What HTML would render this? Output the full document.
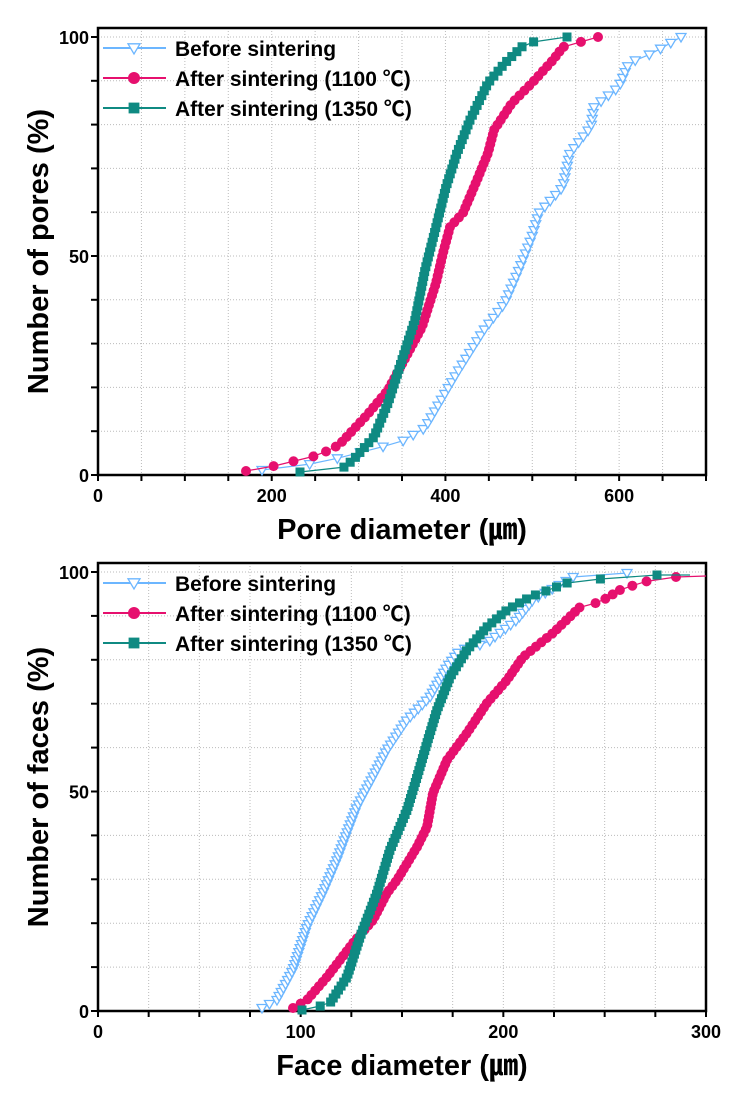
<!DOCTYPE html>
<html><head><meta charset="utf-8"><style>
html,body{margin:0;padding:0;background:#fff;}
svg{display:block;font-family:"Liberation Sans","Noto Sans CJK KR",sans-serif;}
</style></head><body>
<svg id="s" width="746" height="1096" xmlns="http://www.w3.org/2000/svg"></svg>
<script>
const s=document.getElementById('s');let h='';
function plot(L,R,T,Y100,Y0,xt,xmax,xgrid,ygrid,xlab,ylab){
  for(let v=xgrid;v<xmax;v+=xgrid){const x=L+(R-L)*v/xmax;h+=`<line x1="${x}" y1="${T}" x2="${x}" y2="${Y0}" stroke="#bbb" stroke-dasharray="1,2"/>`;}
  for(let v=ygrid;v<=100;v+=ygrid){const y=Y0-(Y0-Y100)*v/100;h+=`<line x1="${L}" y1="${y}" x2="${R}" y2="${y}" stroke="#bbb" stroke-dasharray="1,2"/>`;}
  h+=`<rect x="${L}" y="${T}" width="${R-L}" height="${Y0-T}" fill="none" stroke="#000" stroke-width="2.5"/>`;
  for(let v=0;v<=xmax;v+=xgrid){const x=L+(R-L)*v/xmax;h+=`<line x1="${x}" y1="${Y0}" x2="${x}" y2="${Y0+6}" stroke="#000" stroke-width="2"/>`;}
  xt.forEach(v=>{const x=L+(R-L)*v/xmax;h+=`<text x="${x}" y="${Y0+27}" font-size="18" font-weight="bold" text-anchor="middle">${v}</text>`;});
  for(let v=0;v<=100;v+=ygrid){const y=Y0-(Y0-Y100)*v/100;h+=`<line x1="${L-7}" y1="${y}" x2="${L}" y2="${y}" stroke="#000" stroke-width="2"/>`;}
  [0,50,100].forEach(v=>{const y=Y0-(Y0-Y100)*v/100;h+=`<text x="${L-9}" y="${y+7}" font-size="18" font-weight="bold" text-anchor="end">${v}</text>`;});
  h+=`<text x="${(L+R)/2}" y="${Y0+64}" font-size="29" font-weight="bold" text-anchor="middle">${xlab}</text>`;
  h+=`<text transform="translate(48,${(T+Y0)/2}) rotate(-90)" font-size="29" font-weight="bold" text-anchor="middle">${ylab}</text>`;
  const items=[['Before sintering','#6cb6ff','tri'],['After sintering (1100 ℃)','#e6106e','dot'],['After sintering (1350 ℃)','#0f8a82','sq']];
  items.forEach((it,i)=>{const y=T+20+i*30;h+=`<line x1="${L+5}" y1="${y}" x2="${L+68}" y2="${y}" stroke="${it[1]}" stroke-width="2"/>`+mk(L+36,y,it[1],it[2],1.2);
  h+=`<text x="${L+77}" y="${y+8}" font-size="21" font-weight="bold">${it[0]}</text>`;});
}
function mk(x,y,c,t,sc){sc=sc||1;
  if(t=='tri'){const r=5*sc;return `<polygon points="${x-r},${y-r*0.7} ${x+r},${y-r*0.7} ${x},${y+r}" fill="#fff" stroke="${c}" stroke-width="1.3"/>`;}
  if(t=='dot')return `<circle cx="${x}" cy="${y}" r="${5*sc}" fill="${c}"/>`;
  const r=4.5*sc;return `<rect x="${x-r}" y="${y-r}" width="${2*r}" height="${2*r}" fill="${c}"/>`;}
function series(pts,c,t,n){
  let out=[];const y0=pts[0][1],y1=pts[pts.length-1][1];
  for(let k=0;k<n;k++){const y=y0+(y1-y0)*k/(n-1);
    for(let i=0;i<pts.length-1;i++){const a=pts[i],b=pts[i+1];if((y<=a[1]&&y>=b[1])){const f=a[1]==b[1]?0:(a[1]-y)/(a[1]-b[1]);out.push([a[0]+(b[0]-a[0])*f,y]);break;}}}
  h+=`<polyline points="${out.map(p=>p.join(',')).join(' ')}" fill="none" stroke="${c}" stroke-width="1.2"/>`;
  out.forEach(p=>h+=mk(p[0],p[1],c,t,1));
}
plot(98,706,28,37,475,[0,200,400,600],700,50,10,'Pore diameter (㎛)','Number of pores (%)');
series([[262,470],[319,463],[401,442],[425,428],[443,397],[457,373],[484,330],[505,303],[519,270],[532,237],[539,213],[563,187],[570,153],[591,127],[594,107],[619,87],[629,63],[653,53],[681,37]],'#6cb6ff','tri',75);
series([[246,471],[270,467],[319,455],[339,445],[367,415],[388,390],[408,353],[422,327],[436,283],[443,253],[450,227],[463,213],[477,180],[488,153],[494,130],[512,103],[532,83],[553,60],[563,47],[598,37]],'#e6106e','dot',90);
series([[300,472],[339,471],[353,460],[374,437],[388,403],[401,363],[415,320],[425,270],[436,227],[446,187],[457,153],[470,120],[488,83],[505,63],[526,43],[567,37]],'#0f8a82','sq',90);
plot(98,706,563,572,1011,[0,100,200,300],300,25,10,'Face diameter (㎛)','Number of faces (%)');
series([[262,1008],[277,1000],[293,970],[307,927],[323,893],[337,860],[347,833],[357,807],[373,777],[387,750],[407,720],[430,697],[447,667],[460,650],[487,643],[517,620],[533,600],[573,577],[627,573]],'#6cb6ff','tri',110);
series([[293,1008],[307,1000],[327,977],[340,960],[353,943],[373,920],[387,893],[397,880],[417,847],[427,827],[433,793],[447,760],[467,733],[487,703],[507,680],[523,657],[553,633],[580,607],[600,602],[620,590],[643,582],[665,578],[676,577]],'#e6106e','dot',100);
series([[302,1010],[317,1007],[330,1003],[347,977],[360,937],[377,893],[390,850],[407,810],[417,777],[427,743],[437,710],[450,677],[467,650],[487,627],[507,610],[530,597],[567,583],[617,577],[657,575]],'#0f8a82','sq',110);
h+='<line x1="657" y1="575" x2="690" y2="575" stroke="#0f8a82" stroke-width="1.2"/><line x1="676" y1="577" x2="706" y2="576" stroke="#e6106e" stroke-width="1.2"/>';
s.innerHTML=h;
</script>
</body></html>
